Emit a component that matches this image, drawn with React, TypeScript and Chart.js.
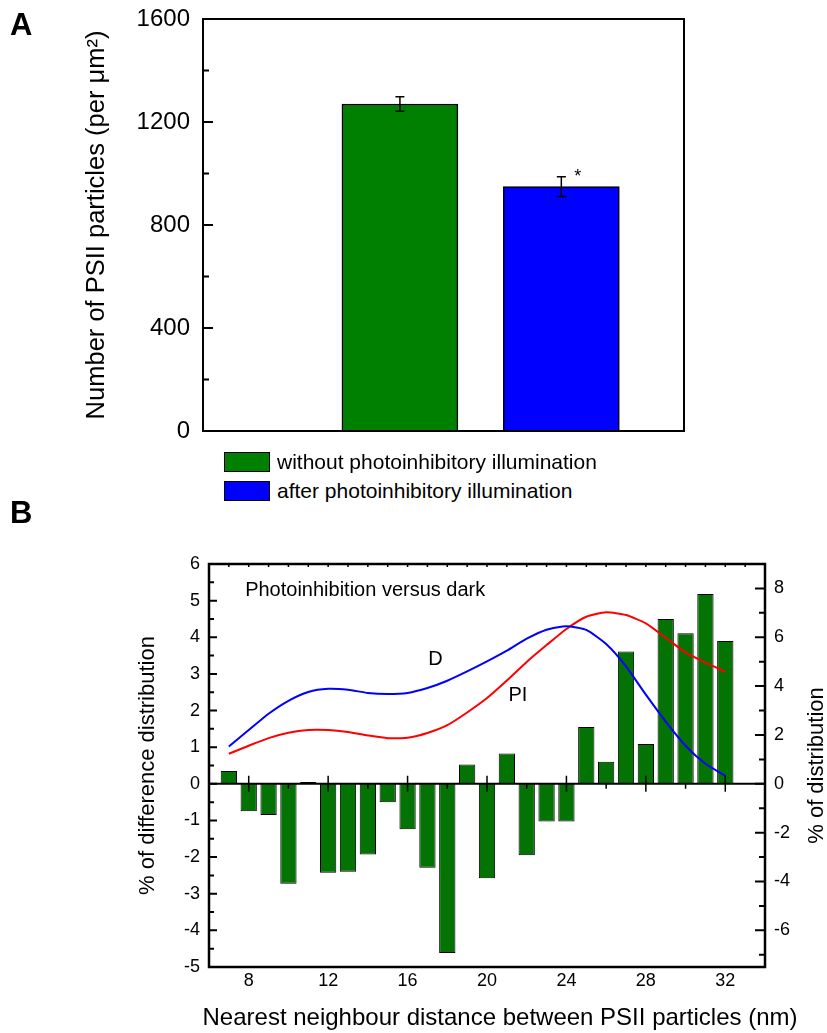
import React, { useEffect, useRef } from 'react';
import { Chart, registerables } from 'chart.js';

Chart.register(...registerables);

const FONT = '"Liberation Sans", Arial, Helvetica, sans-serif';
Chart.defaults.font.family = FONT;
Chart.defaults.color = '#000';

// ---------- Panel A data ----------
const groupLabels = ['without photoinhibitory illumination', 'after photoinhibitory illumination'];
const groupPositions = [1, 2];
const particleCounts = [1270, 949];
const particleErrors = [28, 38];
const groupColors = ['#008000', '#0000ff'];
const yTicksA = [0, 400, 800, 1200, 1600];
const yMinorTicksA = [200, 600, 1000, 1400];

// ---------- Panel B data ----------
const distances = [7, 8, 9, 10, 11, 12, 13, 14, 15, 16, 17, 18, 19, 20, 21, 22, 23, 24, 25, 26, 27, 28, 29, 30, 31, 32];
const differencePct = [0.35, -0.75, -0.85, -2.73, 0.05, -2.43, -2.4, -1.93, -0.5, -1.24, -2.29, -4.62, 0.53, -2.58, 0.83, -1.95, -1.03, -1.03, 1.55, 0.6, 3.61, 1.09, 4.5, 4.11, 5.18, 3.9];
const darkDist = [1.53, 2.2, 2.87, 3.4, 3.76, 3.89, 3.85, 3.72, 3.68, 3.72, 3.92, 4.22, 4.6, 5.01, 5.45, 5.94, 6.31, 6.45, 6.3, 5.72, 4.81, 3.65, 2.55, 1.56, 0.82, 0.33];
const piDist = [1.23, 1.56, 1.87, 2.09, 2.2, 2.2, 2.12, 1.98, 1.87, 1.89, 2.08, 2.4, 2.92, 3.51, 4.23, 4.99, 5.68, 6.34, 6.84, 7.02, 6.91, 6.57, 5.98, 5.38, 4.96, 4.59];
const xTicksB = [8, 12, 16, 20, 24, 28, 32];
const xMinorTicksB = [10, 14, 18, 22, 26, 30];
const yTicksB = [-5, -4, -3, -2, -1, 0, 1, 2, 3, 4, 5, 6];
const y2TicksB = [-6, -4, -2, 0, 2, 4, 6, 8];
const xTitleB = 'Nearest neighbour distance between PSII particles (nm)';
const y2TitleB = '% of distribution';

const CANVAS_A_TOP = -10;
const CANVAS_B_TOP = 490;

const panelAPlugin = {
  id: 'panelA',
  afterDatasetsDraw(chart: any) {
    const { ctx, chartArea: a, scales } = chart;
    const x = scales.x;
    const y = scales.y;
    ctx.save();
    ctx.strokeStyle = '#000';
    ctx.fillStyle = '#000';
    ctx.lineWidth = 1.5;
    particleCounts.forEach((v, i) => {
      const px = x.getPixelForValue(groupPositions[i]);
      const t = y.getPixelForValue(v + particleErrors[i]);
      const b = y.getPixelForValue(v - particleErrors[i]);
      ctx.beginPath();
      ctx.moveTo(px, t);
      ctx.lineTo(px, b);
      ctx.moveTo(px - 4.5, t);
      ctx.lineTo(px + 4.5, t);
      ctx.moveTo(px - 4.5, b);
      ctx.lineTo(px + 4.5, b);
      ctx.stroke();
    });
    ctx.lineWidth = 2;
    ctx.strokeRect(a.left, a.top, a.right - a.left, a.bottom - a.top);
    ctx.beginPath();
    yTicksA.forEach((v) => {
      const py = y.getPixelForValue(v);
      ctx.moveTo(a.left, py);
      ctx.lineTo(a.left + 10, py);
    });
    yMinorTicksA.forEach((v) => {
      const py = y.getPixelForValue(v);
      ctx.moveTo(a.left, py);
      ctx.lineTo(a.left + 6, py);
    });
    ctx.stroke();
    // significance asterisk
    const bx = x.getPixelForValue(groupPositions[1]);
    const by = y.getPixelForValue(particleCounts[1] + particleErrors[1]);
    ctx.font = `18px ${FONT}`;
    ctx.textAlign = 'center';
    ctx.textBaseline = 'alphabetic';
    ctx.fillText('*', bx + 16.5, by + 5);
    // panel label
    ctx.font = `bold 31px ${FONT}`;
    ctx.textAlign = 'left';
    ctx.textBaseline = 'alphabetic';
    ctx.fillText('A', 10, 35 - CANVAS_A_TOP);
    ctx.restore();
  },
};

const panelBPlugin = {
  id: 'panelB',
  afterDatasetsDraw(chart: any) {
    const { ctx, chartArea: a, scales } = chart;
    const x = scales.x;
    const y = scales.y;
    const y2 = scales.y2;
    ctx.save();
    ctx.strokeStyle = '#000';
    ctx.fillStyle = '#000';
    // zero line
    const y0 = y.getPixelForValue(0);
    ctx.lineWidth = 2;
    ctx.beginPath();
    ctx.moveTo(a.left, y0);
    ctx.lineTo(a.right, y0);
    ctx.stroke();
    // x ticks on zero line
    ctx.lineWidth = 1.5;
    ctx.beginPath();
    xTicksB.forEach((v) => {
      const px = x.getPixelForValue(v);
      ctx.moveTo(px, y0 - 8);
      ctx.lineTo(px, y0 + 8);
    });
    xMinorTicksB.forEach((v) => {
      const px = x.getPixelForValue(v);
      ctx.moveTo(px, y0);
      ctx.lineTo(px, y0 + 5);
    });
    // small ticks along top
    for (let v = 7; v <= 33; v++) {
      const px = x.getPixelForValue(v);
      ctx.moveTo(px, a.top);
      ctx.lineTo(px, a.top + 3);
    }
    ctx.stroke();
    // left axis ticks
    ctx.lineWidth = 2;
    ctx.beginPath();
    yTicksB.forEach((v) => {
      const py = y.getPixelForValue(v);
      ctx.moveTo(a.left, py);
      ctx.lineTo(a.left + 8, py);
      if (v < 6) {
        const pm = y.getPixelForValue(v + 0.5);
        ctx.moveTo(a.left, pm);
        ctx.lineTo(a.left + 5, pm);
      }
    });
    // right axis ticks
    y2TicksB.forEach((v) => {
      const py = y2.getPixelForValue(v);
      ctx.moveTo(a.right, py);
      ctx.lineTo(a.right - 10, py);
      [v - 1, v + 1].forEach((m) => {
        if (m > -7.5 && m < 9) {
          const pm = y2.getPixelForValue(m);
          ctx.moveTo(a.right, pm);
          ctx.lineTo(a.right - 6, pm);
        }
      });
    });
    ctx.stroke();
    // frame
    ctx.lineWidth = 2.5;
    ctx.strokeRect(a.left, a.top, a.right - a.left, a.bottom - a.top);
    // annotations
    ctx.font = `20px ${FONT}`;
    ctx.textBaseline = 'middle';
    ctx.textAlign = 'left';
    ctx.fillText('Photoinhibition versus dark', x.getPixelForValue(7.82), y.getPixelForValue(5.27));
    ctx.textAlign = 'center';
    ctx.fillText('D', x.getPixelForValue(17.41), y.getPixelForValue(3.39));
    ctx.fillText('PI', x.getPixelForValue(21.56), y.getPixelForValue(2.4));
    // x axis title
    ctx.font = `24px ${FONT}`;
    ctx.textAlign = 'center';
    ctx.textBaseline = 'middle';
    ctx.fillText(xTitleB, 500, 1018 - CANVAS_B_TOP);
    // right axis title (reads bottom to top)
    ctx.save();
    ctx.font = `22px ${FONT}`;
    ctx.translate(817, (a.top + a.bottom) / 2);
    ctx.rotate(-Math.PI / 2);
    ctx.textAlign = 'center';
    ctx.textBaseline = 'middle';
    ctx.fillText(y2TitleB, 0, 0);
    ctx.restore();
    // panel label
    ctx.font = `bold 31px ${FONT}`;
    ctx.textAlign = 'left';
    ctx.textBaseline = 'alphabetic';
    ctx.fillText('B', 10, 33);
    ctx.restore();
  },
};

function PanelA() {
  const ref = useRef<HTMLCanvasElement>(null);
  useEffect(() => {
    if (!ref.current) return;
    const chart = new Chart(ref.current, {
      type: 'bar',
      data: {
        labels: groupLabels,
        datasets: [
          {
            label: 'PSII particles',
            data: groupPositions.map((p, i) => ({ x: p, y: particleCounts[i] })) as any,
            backgroundColor: groupColors,
            borderColor: '#000',
            borderWidth: 1.5,
            barThickness: 116,
          } as any,
        ],
      },
      options: {
        animation: false,
        responsive: false,
        layout: { padding: { left: 0, right: 143, top: 19 - CANVAS_A_TOP, bottom: 29 } },
        plugins: { legend: { display: false }, tooltip: { enabled: false } },
        scales: {
          x: { type: 'linear', min: -0.22, max: 2.76, offset: false, display: false },
          y: {
            type: 'linear',
            min: 0,
            max: 1600,
            afterFit: (s: any) => { s.width = 203; },
            afterBuildTicks: (s: any) => { s.ticks = yTicksA.map((v) => ({ value: v })); },
            grid: { display: false, drawTicks: false },
            border: { display: false },
            ticks: { padding: 13, font: { size: 24 }, callback: (v: any) => String(v) },
            title: {
              display: true,
              text: 'Number of PSII particles (per μm²)',
              font: { size: 25.5 },
              padding: { top: 81.7, bottom: 0 },
            },
          },
        },
      } as any,
      plugins: [panelAPlugin],
    });
    return () => chart.destroy();
  }, []);
  // chart area: top 19, bottom 431 in page coordinates
  return (
    <canvas
      ref={ref}
      width={827}
      height={431 - CANVAS_A_TOP + 29}
      style={{ position: 'absolute', left: 0, top: CANVAS_A_TOP }}
    />
  );
}

function PanelB() {
  const ref = useRef<HTMLCanvasElement>(null);
  useEffect(() => {
    if (!ref.current) return;
    const chart = new Chart(ref.current, {
      type: 'bar',
      data: {
        datasets: [
          {
            type: 'line',
            label: 'D',
            data: distances.map((d, i) => ({ x: d, y: darkDist[i] })),
            yAxisID: 'y2',
            borderColor: '#0000ff',
            borderWidth: 2,
            pointRadius: 0,
            tension: 0.2,
            order: 1,
          },
          {
            type: 'line',
            label: 'PI',
            data: distances.map((d, i) => ({ x: d, y: piDist[i] })),
            yAxisID: 'y2',
            borderColor: '#ff0000',
            borderWidth: 2,
            pointRadius: 0,
            tension: 0.2,
            order: 1,
          },
          {
            type: 'bar',
            label: 'Difference',
            data: distances.map((d, i) => ({ x: d, y: differencePct[i] })),
            yAxisID: 'y',
            backgroundColor: '#037303',
            borderColor: '#000',
            borderWidth: 1,
            barPercentage: 0.82,
            categoryPercentage: 1,
            order: 2,
          },
        ] as any,
      },
      options: {
        animation: false,
        responsive: false,
        layout: { padding: { left: 0, right: 0, top: 74, bottom: 0 } },
        plugins: { legend: { display: false }, tooltip: { enabled: false } },
        scales: {
          x: {
            type: 'linear',
            min: 6,
            max: 34,
            offset: false,
            afterFit: (s: any) => { s.height = 66; },
            afterBuildTicks: (s: any) => { s.ticks = xTicksB.map((v) => ({ value: v })); },
            grid: { display: false, drawTicks: false },
            border: { display: false },
            ticks: { padding: 3, font: { size: 18 }, maxRotation: 0, callback: (v: any) => String(v) },
            title: { display: false },
          },
          y: {
            type: 'linear',
            position: 'left',
            min: -5,
            max: 6,
            afterFit: (s: any) => { s.width = 209; },
            afterBuildTicks: (s: any) => { s.ticks = yTicksB.map((v) => ({ value: v })); },
            grid: { display: false, drawTicks: false },
            border: { display: false },
            ticks: { padding: 9, font: { size: 18 }, callback: (v: any) => String(v) },
            title: {
              display: true,
              text: '% of difference distribution',
              font: { size: 22 },
              padding: { top: 134.8, bottom: 0 },
            },
          },
          y2: {
            type: 'linear',
            position: 'right',
            min: -7.5,
            max: 9,
            afterFit: (s: any) => { s.width = 62; },
            afterBuildTicks: (s: any) => { s.ticks = y2TicksB.map((v) => ({ value: v })); },
            grid: { display: false, drawTicks: false },
            border: { display: false },
            ticks: { padding: 9, font: { size: 18 }, callback: (v: any) => String(v) },
            title: { display: false },
          },
        },
      } as any,
      plugins: [panelBPlugin],
    });
    return () => chart.destroy();
  }, []);
  return <canvas ref={ref} width={827} height={543} style={{ position: 'absolute', left: 0, top: CANVAS_B_TOP }} />;
}

function Legend() {
  const items = groupLabels.map((label, i) => ({ label, color: groupColors[i] }));
  const tops = [452, 481];
  return (
    <>
      {items.map((it, i) => (
        <div
          key={it.label}
          style={{
            position: 'absolute',
            left: 224,
            top: tops[i],
            height: 20,
            display: 'flex',
            alignItems: 'center',
            fontFamily: FONT,
            fontSize: 21,
            color: '#000',
            whiteSpace: 'nowrap',
          }}
        >
          <div
            style={{
              width: 46,
              height: 20,
              boxSizing: 'border-box',
              background: it.color,
              border: '1.5px solid #000',
              marginRight: 7,
            }}
          />
          <span style={{ lineHeight: '20px' }}>{it.label}</span>
        </div>
      ))}
    </>
  );
}

export default function App() {
  return (
    <div style={{ position: 'absolute', left: 0, top: 0, width: 827, height: 1033, background: '#fff', overflow: 'hidden' }}>
      <PanelA />
      <Legend />
      <PanelB />
    </div>
  );
}
